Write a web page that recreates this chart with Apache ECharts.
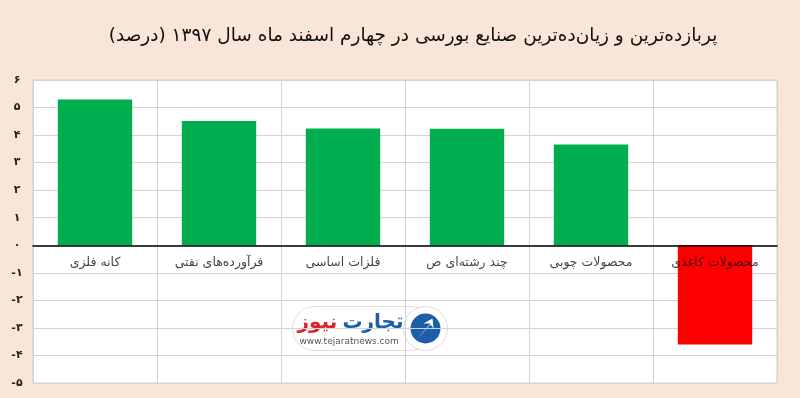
<!DOCTYPE html>
<html>
<head>
<meta charset="utf-8">
<script src="https://cdn.jsdelivr.net/npm/echarts@6/dist/echarts.min.js"></script>
<style>
html,body{margin:0;padding:0;background:#FAE5D9;}
#c{width:800px;height:398px;}
</style>
</head>
<body>
<div id="c"></div>
<script>
const titleText = 'پربازده‌ترین و زیان‌ده‌ترین صنایع بورسی در چهارم اسفند ماه سال ۱۳۹۷ (درصد)';
const categories = ['کانه فلزی', 'فرآورده‌های نفتی', 'فلزات اساسی', 'چند رشته‌ای ص', 'محصولات چوبی', 'محصولات کاغذی'];
const values = [5.29, 4.51, 4.24, 4.23, 3.66, -3.6];
const yMin = -5, yMax = 6, yStep = 1;

const faDigits = '۰۱۲۳۴۵۶۷۸۹';
function toFa(n){
  const s = String(Math.abs(n)).replace(/[0-9]/g, d => faDigits[+d]);
  return (n < 0 ? '-' : '') + s;
}

const chart = echarts.init(document.getElementById('c'), null, {renderer:'canvas'});
const font = '"DejaVu Sans", "Noto Sans", sans-serif';
chart.setOption({
  backgroundColor: '#FAE5D9',
  animation: false,
  title: {
    text: titleText,
    left: 408,
    textAlign: 'center',
    top: 22,
    textStyle: {fontFamily: font, fontSize: 18.5, fontWeight: 'normal', color: '#111'}
  },
  grid: {left: 33, right: 23, top: 80, bottom: 15, outerBoundsMode: 'none', containLabel: false,
         show: true, backgroundColor: '#ffffff', borderColor: '#cfcfcf', borderWidth: 1},
  xAxis: {
    type: 'category',
    data: categories,
    z: 5,
    axisLine: {onZero: true, lineStyle: {color: '#000', width: 1.5}},
    axisTick: {show: false},
    axisLabel: {show: false},
    splitLine: {show: true, lineStyle: {color: '#d4d4d4', width: 1}}
  },
  yAxis: {
    type: 'value',
    min: yMin, max: yMax, interval: yStep,
    axisLine: {show: false},
    axisTick: {show: false},
    axisLabel: {fontFamily: font, fontSize: 11, color: '#222', fontWeight: 'bold', margin: 16, align: 'center', formatter: v => toFa(v)},
    splitLine: {show: true, lineStyle: {color: '#d4d4d4', width: 1}}
  },
  series: [{
    type: 'bar',
    data: values,
    barWidth: '60%',
    itemStyle: {color: p => p.value >= 0 ? '#00AD4F' : '#FF0000'}
  }, {
    type: 'scatter',
    data: categories.map(() => 0),
    symbolSize: 0,
    z: 10,
    silent: true,
    label: {show: true, position: 'bottom', distance: 11, fontFamily: font, fontSize: 12.5, color: '#111',
            formatter: p => categories[p.dataIndex]}
  }],
  graphic: [{
    type: 'group', left: 292, top: 306, z: 10,
    children: [
      {type: 'rect', shape: {x: 0, y: 0, width: 140, height: 44, r: 22}, style: {fill: '#ffffff', stroke: '#dddddd', lineWidth: 1}},
      {type: 'circle', shape: {cx: 133, cy: 22, r: 22}, style: {fill: '#ffffff', stroke: '#dddddd', lineWidth: 1}},
      {type: 'circle', shape: {cx: 133, cy: 22, r: 15}, style: {fill: '#1c5fa8'}},
      {type: 'polygon', shape: {points: [[124, 33], [138, 17], [131, 17], [140, 12], [141, 22], [138, 18]]}, style: {fill: '#ffffff'}},
      {type: 'text', style: {text: 'نیوز', x: 5, y: 6, font: 'bold 20px "DejaVu Sans", sans-serif', fill: '#d9232d'}},
      {type: 'text', style: {text: 'تجارت', x: 50, y: 6, font: 'bold 20px "DejaVu Sans", sans-serif', fill: '#1c5fa8'}},
      {type: 'text', style: {text: 'www.tejaratnews.com', x: 7, y: 31, font: '9px "DejaVu Sans", sans-serif', fill: '#555'}}
    ]
  }]
});
</script>
</body>
</html>
